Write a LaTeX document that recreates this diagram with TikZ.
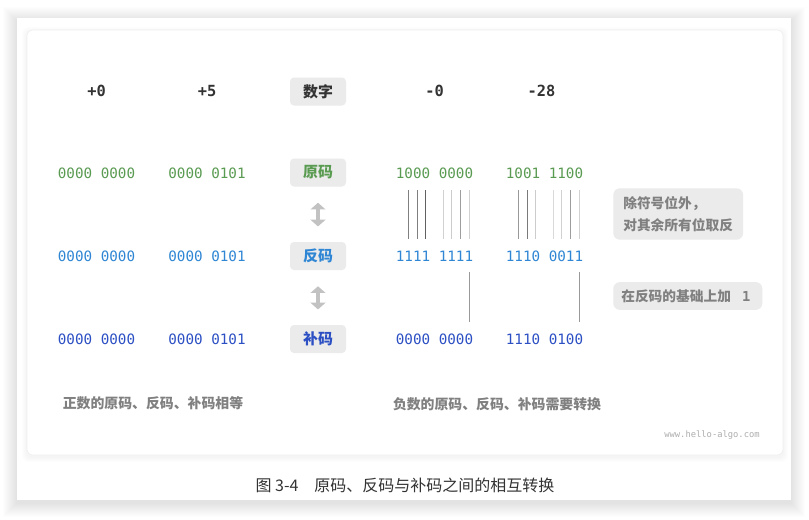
\documentclass[tikz,border=0pt]{standalone}
\usepackage{fontspec}
\usepackage{tikz}
\usetikzlibrary{calc,arrows.meta,positioning}
\setmainfont{Noto Sans CJK SC}
\setmonofont{DejaVu Sans Mono}
\definecolor{txtdark}{HTML}{333333}
\definecolor{origreen}{HTML}{5A9B52}
\definecolor{invblue}{HTML}{2F86D4}
\definecolor{compblue}{HTML}{2C50C4}
\definecolor{tagfill}{HTML}{EBEBEB}
\definecolor{notegray}{HTML}{808080}
\definecolor{swapgray}{HTML}{C2C2C2}
\definecolor{cardline}{HTML}{EEEEEE}

\begin{document}
\begin{tikzpicture}[x=0.75pt,y=-0.75pt,
		bits/.style={font=\ttfamily\fontsize{10.7}{12}\selectfont, inner sep=0pt},
		numlabel/.style={font=\ttfamily\bfseries\fontsize{11.5}{13}\selectfont, text=txtdark},
		tag/.style={fill=tagfill, rounded corners=3pt, minimum width=42pt, minimum height=21pt, inner sep=0pt, font=\bfseries\fontsize{11.2}{13}\selectfont},
		note/.style={fill=tagfill, rounded corners=5pt, font=\bfseries\fontsize{10.3}{16.5}\selectfont, text=notegray, align=left, anchor=west},
		summary/.style={font=\bfseries\fontsize{10.4}{12}\selectfont, text=notegray},
		bitline/.style={line width=0.75pt},
		swap/.style={draw=swapgray, line width=3.6pt, {Triangle[length=5pt,width=11pt]}-{Triangle[length=5pt,width=11pt]}, shorten <=12pt, shorten >=11.5pt}]
	\useasboundingbox (0,0) rectangle (809,519);
	\fill[white] (0,0) rectangle (809,519);
	% page and its shadow
	\foreach \s in {1,...,14}
		\fill[black, opacity=0.009] (17-\s,18-\s+3) rectangle (791+\s,500+\s+3);
	\fill[white] (17,18) rectangle (791,500);
	\foreach \s in {1,...,5}
		\fill[black, opacity=0.008, rounded corners=4.5pt] (27-\s,30-\s+2) rectangle (783+\s,455+\s+2);
	\draw[cardline, fill=white, rounded corners=4.5pt] (27,30) rectangle (783,455);

	% numbers
	\node[numlabel] (num-p0) at (96.5,91) {+0};
	\node[numlabel] (num-p5) at (207,91) {+5};
	\node[numlabel] (num-n0) at (434.5,91) {-0};
	\node[numlabel] (num-n28) at (541.5,91) {-28};

	% codes
	\node[bits, text=origreen] (ori-p0) at (96.5,173) {0000 0000};
	\node[bits, text=origreen] (ori-p5) at (207,173) {0000 0101};
	\node[bits, text=origreen] (ori-n0) at (434.5,173) {1000 0000};
	\node[bits, text=origreen] (ori-n28) at (544.5,173) {1001 1100};
	\node[bits, text=invblue] (inv-p0) at (96.5,256) {0000 0000};
	\node[bits, text=invblue] (inv-p5) at (207,256) {0000 0101};
	\node[bits, text=invblue] (inv-n0) at (434.5,256) {1111 1111};
	\node[bits, text=invblue] (inv-n28) at (544.5,256) {1110 0011};
	\node[bits, text=compblue] (comp-p0) at (96.5,339) {0000 0000};
	\node[bits, text=compblue] (comp-p5) at (207,339) {0000 0101};
	\node[bits, text=compblue] (comp-n0) at (434.5,339) {0000 0000};
	\node[bits, text=compblue] (comp-n28) at (544.5,339) {1110 0100};

	% row tags
	\node[tag, text=txtdark] (tag-num) at (318,91.5) {数字};
	\node[tag, text=origreen] (tag-ori) at (318,172.5) {原码};
	\node[tag, text=invblue] (tag-inv) at (318,256) {反码};
	\node[tag, text=compblue] (tag-comp) at (318,339) {补码};
	\draw[swap] (tag-ori.south) -- (tag-inv.north);
	\draw[swap] (tag-inv.south) -- (tag-comp.north);

	% flipped bits
	\foreach \k/\c in {1/50,2/50,3/62,5/18,6/20,7/38,8/18}
		\draw[bitline, black!\c] ($(ori-n0.west)!{(\k+0.5)/9}!(ori-n0.east)+(0,17)$) -- ($(inv-n0.west)!{(\k+0.5)/9}!(inv-n0.east)+(0,-17)$);
	\foreach \k/\c in {1/40,2/52,3/20,5/15,6/18,7/38,8/18}
		\draw[bitline, black!\c] ($(ori-n28.west)!{(\k+0.5)/9}!(ori-n28.east)+(0,17)$) -- ($(inv-n28.west)!{(\k+0.5)/9}!(inv-n28.east)+(0,-17)$);
	% plus one
	\draw[bitline, black!40] ($(inv-n0.west)!{8.5/9}!(inv-n0.east)+(0,16)$) -- ($(comp-n0.west)!{8.5/9}!(comp-n0.east)+(0,-17)$);
	\draw[bitline, black!40] ($(inv-n28.west)!{8.5/9}!(inv-n28.east)+(0,16)$) -- ($(comp-n28.west)!{8.5/9}!(comp-n28.east)+(0,-17)$);

	% notes
	\node[note, inner xsep=7.5pt, inner ysep=6pt] (note-inv) at (613,214) {除符号位外，\\对其余所有位取反};
	\node[note, inner xsep=6pt, inner ysep=5.5pt] (note-comp) at (613,296) {在反码的基础上加\hspace{0.8em}{\ttfamily\bfseries 1}\hspace{3pt}};

	\node[summary] (sum-pos) at (153,403) {正数的原码、反码、补码相等};
	\node[summary] (sum-neg) at (497,404) {负数的原码、反码、补码需要转换};
	\node[font=\ttfamily\fontsize{6.6}{8}\selectfont, text=black!32] (site) at (712,435) {www.hello-algo.com};

	\node[font=\fontsize{12}{14}\selectfont, text=txtdark] (caption) at (405,485) {图 3-4\hspace{1em}原码、反码与补码之间的相互转换};
\end{tikzpicture}
\end{document}
